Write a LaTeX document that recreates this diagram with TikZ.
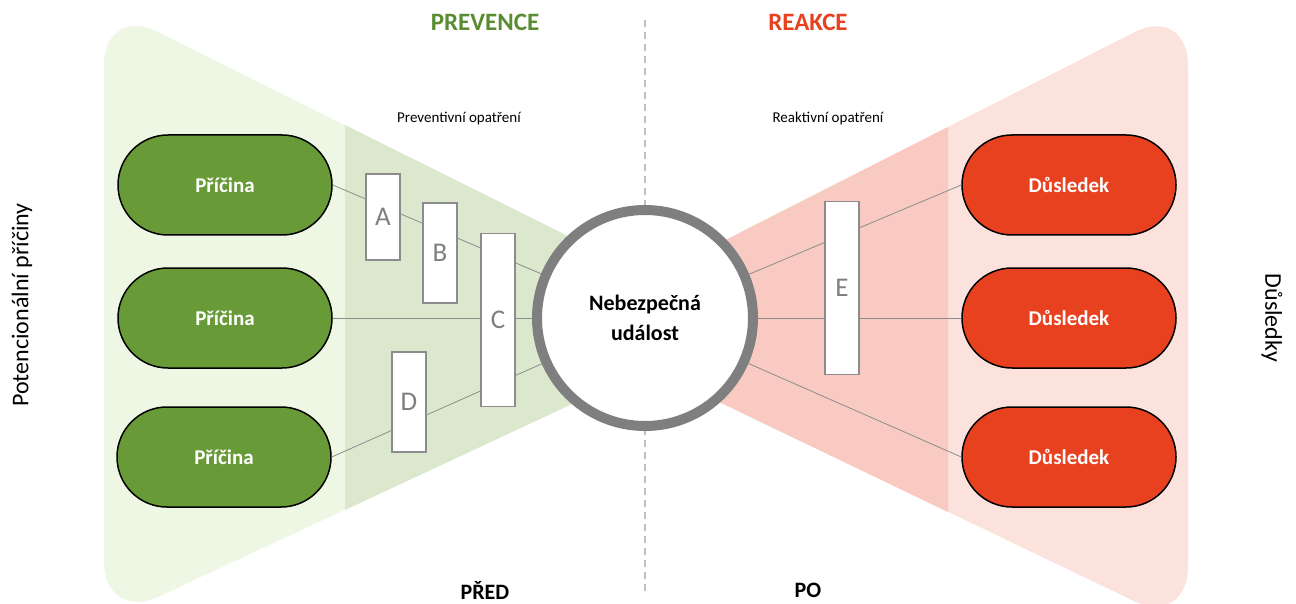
\documentclass[tikz,border=0pt]{standalone}
\usepackage{fontspec}
\setmainfont{Carlito}
\usetikzlibrary{calc}
\definecolor{causegreen}{RGB}{104,155,56}
\definecolor{headgreen}{RGB}{90,140,50}
\definecolor{effectred}{RGB}{232,65,32}
\definecolor{lightgreen}{RGB}{238,246,228}
\definecolor{midgreen}{RGB}{220,232,206}
\definecolor{lightred}{RGB}{252,226,221}
\definecolor{midred}{RGB}{248,202,194}
\definecolor{ringgray}{RGB}{127,127,127}
\definecolor{boxgray}{RGB}{140,140,140}
\tikzset{
	causestyle/.style={rectangle,rounded corners=50,draw=black,line width=1.5,fill=causegreen,text=white,minimum width=214,minimum height=100,font=\fontsize{21}{25}\selectfont\bfseries},
	effectstyle/.style={causestyle,fill=effectred},
	eventstyle/.style={circle,draw=ringgray,line width=10,fill=white,minimum size=216,align=center,font=\fontsize{22}{30}\selectfont\bfseries},
	barrierstyle/.style={rectangle,draw=boxgray,line width=1.5,fill=white,text=ringgray,minimum width=34,font=\fontsize{27}{30}\selectfont},
	linkstyle/.style={draw=boxgray,line width=0.8},
	headstyle/.style={font=\fontsize{25}{30}\selectfont\bfseries},
	timestyle/.style={font=\fontsize{22}{25}\selectfont\bfseries},
	notestyle/.style={font=\fontsize{15}{17}\selectfont},
	sidestyle/.style={font=\fontsize{24}{27}\selectfont}
}
\begin{document}
\begin{tikzpicture}[x=1pt,y=-1pt]
	\useasboundingbox (0,0) rectangle (1296,604);
	% background wedges
	\fill[lightgreen,rounded corners=60] (600,252)--(104,5)--(104,622)--(600,391)--cycle;
	\fill[midgreen] (345,125)--(600,252)--(600,391)--(345,510)--cycle;
	\fill[lightred,rounded corners=60] (690,258)--(1188,5)--(1188,627)--(690,388)--cycle;
	\fill[midred] (948,127)--(690,258)--(690,388)--(948,512)--cycle;
	\draw[gray!50,line width=1.5,dash pattern=on 7 off 5] (645,20)--(645,596);
	% headings
	\node[headstyle,text=headgreen] (prev) at (485,22) {PREVENCE};
	\node[headstyle,text=effectred] (reak) at (808,22) {REAKCE};
	\node[notestyle] (pnote) at (459,119) {Preventivní opatření};
	\node[notestyle] (rnote) at (828,119) {Reaktivní opatření};
	\node[timestyle] (pred) at (485,590) {PŘED};
	\node[timestyle] (po) at (808,590) {PO};
	\node[sidestyle,rotate=90] (causes) at (22,305) {Potencionální příčiny};
	\node[sidestyle,rotate=-90] (effects) at (1272,318) {Důsledky};
	% event, causes, consequences
	\node[eventstyle] (ev) at (645,318) {Nebezpečná\\událost};
	\node[causestyle] (c1) at (225,185) {Příčina};
	\node[causestyle] (c2) at (225,318) {Příčina};
	\node[causestyle] (c3) at (224,457) {Příčina};
	\node[effectstyle] (d1) at (1069,185) {Důsledek};
	\node[effectstyle] (d2) at (1069,318) {Důsledek};
	\node[effectstyle] (d3) at (1069,457) {Důsledek};
	\draw[linkstyle] (c1.east)--(ev);
	\draw[linkstyle] (c2.east)--(ev);
	\draw[linkstyle] (c3.east)--(ev);
	\draw[linkstyle] (ev)--(d1.west);
	\draw[linkstyle] (ev)--(d2.west);
	\draw[linkstyle] (ev)--(d3.west);
	% barriers
	\node[barrierstyle,minimum height=86] (a) at (383,217) {A};
	\node[barrierstyle,minimum height=100] (b) at (440,253) {B};
	\node[barrierstyle,minimum height=173] (c) at (498,320) {C};
	\node[barrierstyle,minimum height=100] (d) at (409,402) {D};
	\node[barrierstyle,minimum height=173] (e) at (842,288) {E};
\end{tikzpicture}
\end{document}
